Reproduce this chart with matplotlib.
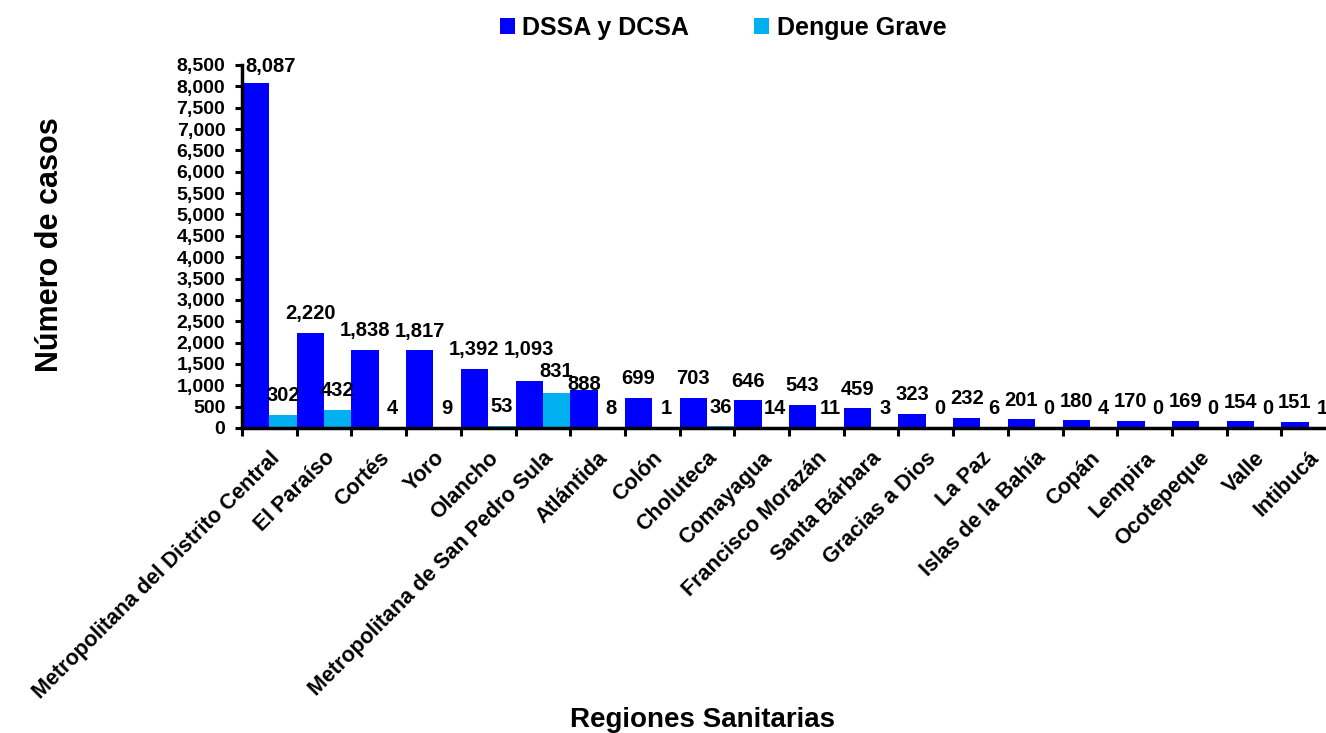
import matplotlib
matplotlib.use("Agg")
import matplotlib.pyplot as plt
import numpy as np
from matplotlib.ticker import FuncFormatter, MultipleLocator, FixedLocator

plt.rcParams['font.family'] = ['Liberation Sans', 'DejaVu Sans']
plt.rcParams['font.weight'] = 'bold'

regiones = ["Metropolitana del Distrito Central", "El Paraíso", "Cortés", "Yoro", "Olancho",
            "Metropolitana de San Pedro Sula", "Atlántida", "Colón", "Choluteca", "Comayagua",
            "Francisco Morazán", "Santa Bárbara", "Gracias a Dios", "La Paz", "Islas de la Bahía",
            "Copán", "Lempira", "Ocotepeque", "Valle", "Intibucá"]
dssa_dcsa = [8087, 2220, 1838, 1817, 1392, 1093, 888, 699, 703, 646,
             543, 459, 323, 232, 201, 180, 170, 169, 154, 151]
dengue_grave = [302, 432, 4, 9, 53, 831, 8, 1, 36, 14,
                11, 3, 0, 6, 0, 4, 0, 0, 0, 1]
series_names = ["DSSA y DCSA", "Dengue Grave"]
colors = ["#0000FF", "#00B0F0"]

W, H = 1326, 733
fig = plt.figure(figsize=(W / 100, H / 100), dpi=100)
ax = fig.add_axes([242 / W, 1 - 428 / H, (1336 - 242) / W, (428 - 65) / H])

x = np.arange(len(regiones))
bw = 0.5
b1 = ax.bar(x - bw / 2, dssa_dcsa, width=bw, color=colors[0], label=series_names[0])
b2 = ax.bar(x + bw / 2, dengue_grave, width=bw, color=colors[1], label=series_names[1])

ax.set_xlim(-0.5, len(regiones) - 0.5)
ax.set_ylim(0, 8500)
ax.yaxis.set_major_locator(MultipleLocator(500))
ax.yaxis.set_major_formatter(FuncFormatter(lambda v, p: f"{int(v):,}"))

# ticks at category boundaries, labels at centers
ax.xaxis.set_major_locator(FixedLocator(np.arange(len(regiones) + 1) - 0.5))
ax.xaxis.set_major_formatter(FuncFormatter(lambda v, p: ""))
ax.xaxis.set_minor_locator(FixedLocator(x))
ax.set_xticklabels(regiones, minor=True, rotation=45, ha='right', va='top',
                   rotation_mode='anchor', fontsize=15.5, fontweight='bold')
ax.tick_params(axis='x', which='minor', length=0, pad=14)
ax.tick_params(axis='x', which='major', direction='out', length=6, width=2.2)
ax.tick_params(axis='y', which='major', direction='out', length=5, width=2.2,
               labelsize=14, pad=7)
for lbl in ax.get_yticklabels():
    lbl.set_fontweight('bold')

for s in ['top', 'right']:
    ax.spines[s].set_visible(False)
for s in ['left', 'bottom']:
    ax.spines[s].set_linewidth(2.5)

# data labels (offsets in points, a few nudged as in the reference)
blue_off = {0: (11, 5), 5: (0, 16), 6: (0, -3)}
cyan_off = {5: (0, 8)}
for i, v in enumerate(dssa_dcsa):
    dx, dy = blue_off.get(i, (0, 7))
    ax.annotate(f"{v:,}", (x[i] - bw / 2, v), xytext=(dx, dy), textcoords='offset points',
                ha='center', va='bottom', fontsize=14.5, fontweight='bold', annotation_clip=False)
for i, v in enumerate(dengue_grave):
    dx, dy = cyan_off.get(i, (0, 7))
    ax.annotate(f"{v:,}", (x[i] + bw / 2, v), xytext=(dx, dy), textcoords='offset points',
                ha='center', va='bottom', fontsize=14.5, fontweight='bold', annotation_clip=False)

fig.text(50 / W, 1 - 245 / H, "Número de casos", rotation=90, ha='center', va='center',
         fontsize=22, fontweight='bold')
fig.text(702 / W, 1 - 720 / H, "Regiones Sanitarias", ha='center', va='center',
         fontsize=20, fontweight='bold')

fig.legend(handles=[b1, b2], labels=series_names, loc='center', bbox_to_anchor=(723 / W, 1 - 28 / H),
           ncol=2, frameon=False, handlelength=0.6, handleheight=0.6,
           handletextpad=0.3, columnspacing=2.6, prop={'weight': 'bold', 'size': 18})

fig.savefig("out.png", dpi=100)
